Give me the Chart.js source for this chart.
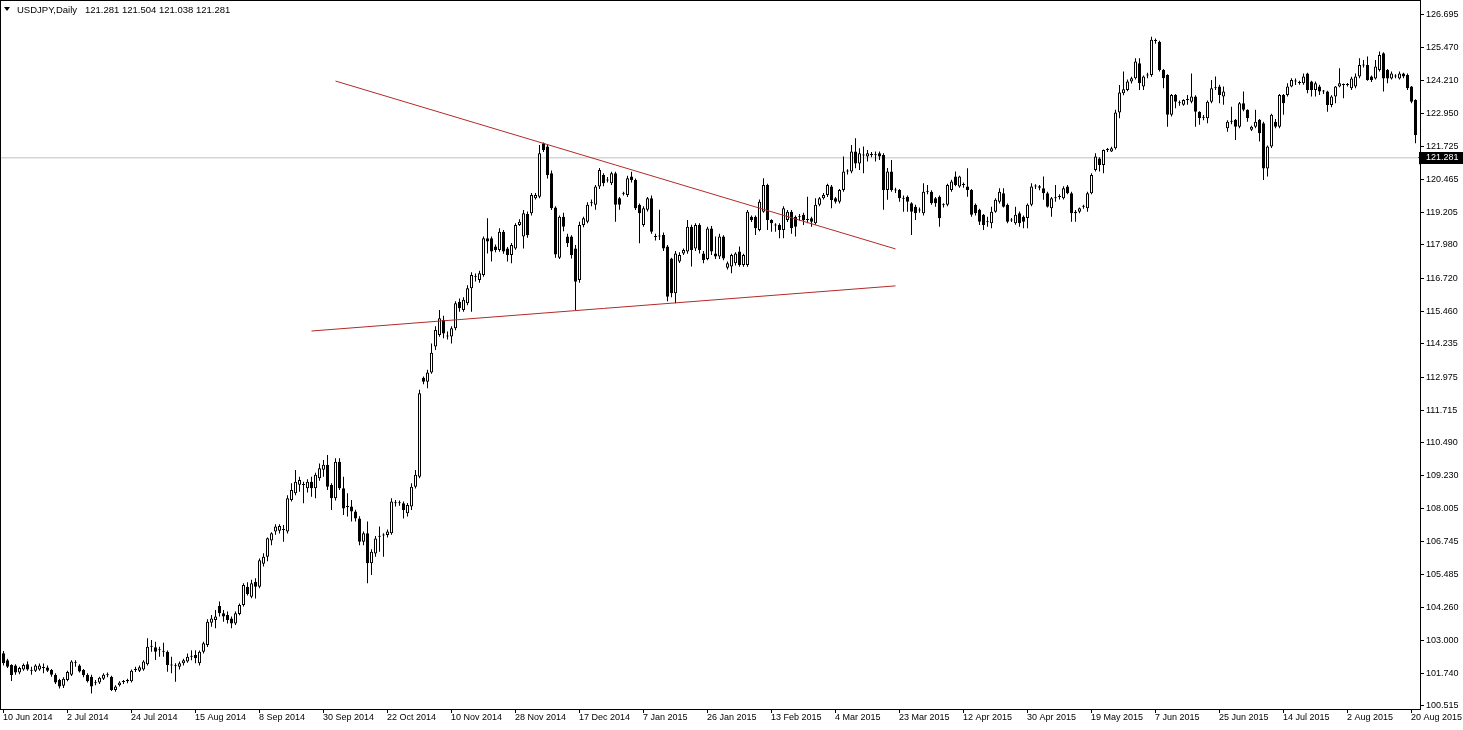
<!DOCTYPE html>
<html><head><meta charset="utf-8">
<script src="https://cdn.jsdelivr.net/npm/chart.js@4.4.1/dist/chart.umd.min.js"></script>
<style>html,body{margin:0;padding:0;background:#fff;overflow:hidden}#wrap{position:relative;width:1463px;height:730px}</style>
</head><body><div id="wrap"><canvas id="c" width="1463" height="730"></canvas></div>
<script>
const symbolTitle = "USDJPY,Daily";
const dateLabels = ["10 Jun 2014","2 Jul 2014","24 Jul 2014","15 Aug 2014","8 Sep 2014","30 Sep 2014","22 Oct 2014","10 Nov 2014","28 Nov 2014","17 Dec 2014","7 Jan 2015","26 Jan 2015","13 Feb 2015","4 Mar 2015","23 Mar 2015","12 Apr 2015","30 Apr 2015","19 May 2015","7 Jun 2015","25 Jun 2015","14 Jul 2015","2 Aug 2015","20 Aug 2015"];
const barsPerLabel = 16;
const priceTicks = [126.695,125.470,124.210,122.950,121.725,120.465,119.205,117.980,116.720,115.460,114.235,112.975,111.715,110.490,109.230,108.005,106.745,105.485,104.260,103.000,101.740,100.515];
const currentPrice = 121.281;
const upperTrend = [[83,124.19],[223,117.83]];
const lowerTrend = [[77,114.72],[223,116.43]];

const opens = [102.51,102.25,102.07,102.05,101.78,101.90,102.10,101.88,101.85,101.90,
101.97,101.97,101.88,101.70,101.50,101.28,101.50,101.70,102.18,102.05,
101.88,101.70,101.62,101.40,101.40,101.55,101.68,101.62,101.12,101.30,
101.42,101.45,101.45,101.88,101.85,101.90,102.10,102.76,102.74,102.63,
102.58,102.57,102.06,102.03,102.00,102.13,102.20,102.38,102.45,102.13,
102.57,102.82,103.67,103.77,104.30,104.03,103.96,103.83,103.64,104.00,
104.34,105.03,104.65,105.22,105.03,105.90,106.17,106.78,107.12,107.15,
107.20,107.12,108.32,108.57,108.90,108.90,108.76,109.01,108.76,109.14,
109.46,109.65,108.89,108.38,109.77,108.76,108.07,108.07,107.88,107.62,
106.74,107.06,105.92,106.29,106.93,106.99,106.99,107.06,108.19,108.19,
108.19,107.82,108.07,108.82,109.20,112.95,112.80,113.15,114.13,114.57,
115.14,114.55,114.51,114.82,115.83,115.52,115.77,116.34,116.80,116.65,
116.84,118.23,118.23,117.92,117.79,118.48,117.85,117.60,117.85,118.74,
118.30,119.15,119.18,119.75,119.81,121.83,121.71,120.70,119.40,117.50,
119.05,118.30,118.30,117.85,116.65,118.74,118.86,119.56,119.50,120.19,
120.63,120.44,120.32,120.70,119.75,119.94,119.87,120.57,120.44,119.50,
118.74,119.31,119.75,118.30,118.30,118.36,117.92,117.47,116.15,117.35,
117.66,117.73,118.67,117.85,118.74,117.66,117.45,118.60,117.66,117.54,
118.30,117.12,117.16,117.29,117.73,117.22,117.22,119.05,119.05,118.55,
119.24,120.25,118.93,118.74,118.74,118.55,118.93,119.24,119.05,119.05,
119.12,118.93,118.99,118.80,119.50,119.75,119.87,120.19,119.75,119.62,
120.06,120.76,120.76,121.52,121.07,121.39,121.33,121.39,121.39,121.45,
121.39,120.06,120.76,120.06,120.06,119.75,119.81,119.56,119.43,119.31,
119.18,120.00,120.00,119.75,119.81,119.50,119.50,120.06,120.57,120.19,
120.25,120.19,120.06,119.50,119.31,119.12,118.86,118.80,119.24,119.62,
119.94,119.50,118.93,118.80,119.18,119.05,119.00,119.50,120.19,120.20,
120.13,119.94,119.37,119.75,119.81,119.75,120.19,119.94,119.24,119.24,
119.43,119.37,119.94,120.82,121.26,121.01,121.58,121.52,121.64,123.00,
123.73,123.85,124.17,124.30,124.86,123.98,124.40,124.42,125.71,125.68,
124.61,124.42,122.91,123.66,123.35,123.29,123.47,123.41,123.60,123.03,
122.80,122.78,123.41,123.92,123.98,123.60,122.40,122.65,122.72,122.46,
123.35,123.10,122.34,122.46,122.72,122.59,120.88,121.71,122.65,122.46,
123.66,123.66,123.98,124.17,124.13,124.11,124.48,124.17,123.85,123.98,
123.79,123.79,123.28,123.60,123.98,124.04,124.04,123.92,123.98,124.36,
124.78,124.80,124.36,124.29,124.61,125.24,124.61,124.29,124.36,124.29,
124.48,124.42,123.98,123.47,121.281];

const highs = [102.60,102.30,102.10,102.10,102.00,102.12,102.20,102.00,102.10,102.12,
102.12,102.05,101.92,101.75,101.55,101.60,101.85,102.25,102.25,102.10,
101.92,101.75,101.70,101.50,101.62,101.75,101.78,101.66,101.30,101.45,
101.50,101.55,101.90,102.00,102.05,102.25,103.08,103.01,102.95,102.76,
102.91,102.62,102.38,102.13,102.20,102.30,102.50,102.63,102.63,102.62,
102.95,103.80,103.96,104.15,104.47,104.15,104.09,103.90,104.09,104.40,
105.16,105.20,105.30,105.35,106.10,106.30,106.90,107.10,107.40,107.40,
107.37,108.50,108.95,109.45,109.20,109.01,109.10,109.20,109.35,109.70,
109.83,110.02,108.95,109.90,109.90,109.20,108.57,108.32,107.95,107.70,
107.12,107.50,106.45,106.95,107.31,107.06,107.20,108.38,108.32,108.30,
108.26,108.20,108.95,109.45,112.49,113.00,113.25,114.25,114.90,115.52,
115.30,114.70,114.90,115.85,115.95,116.00,116.45,116.95,116.90,117.00,
118.30,118.99,118.30,118.00,118.61,118.55,117.90,118.05,118.80,118.95,
119.30,119.25,119.95,119.95,121.77,121.86,121.80,120.80,119.45,119.10,
119.20,118.40,118.35,117.98,118.86,119.05,119.60,119.70,120.25,120.90,
120.70,120.55,120.75,120.75,119.80,120.00,120.60,120.75,120.50,119.55,
119.45,119.80,119.85,118.40,119.31,118.45,117.98,117.50,117.75,117.70,
117.85,118.93,118.75,118.80,118.80,117.75,118.67,118.70,118.30,118.40,
118.35,117.35,117.65,117.70,117.92,117.65,119.30,119.10,119.10,119.70,
120.51,120.30,118.95,118.80,118.80,119.45,119.30,119.30,119.10,119.15,
119.20,119.81,119.05,119.75,119.80,119.95,120.30,120.25,119.80,120.10,
121.33,120.85,121.77,122.02,121.64,121.71,121.58,121.50,121.52,121.52,
121.45,120.90,121.20,120.15,120.10,119.85,119.85,119.60,119.50,119.40,
120.32,120.25,120.05,119.80,119.85,119.56,120.30,120.45,120.76,120.60,
120.35,120.89,120.10,119.55,119.35,119.15,119.05,119.43,119.75,120.13,
120.13,119.55,119.00,119.43,119.25,119.10,119.55,120.32,120.28,120.25,
120.57,120.00,119.80,120.25,119.90,120.20,120.25,120.00,119.30,119.40,
119.50,120.00,120.70,121.45,121.30,121.60,121.65,121.70,123.10,124.04,
124.55,124.25,124.35,125.05,125.05,124.40,124.50,125.87,125.80,125.72,
124.65,124.45,123.70,123.70,123.45,123.50,123.66,124.48,123.65,123.05,
122.90,123.45,124.23,124.36,124.05,123.98,122.70,123.22,122.75,123.40,
123.79,123.12,122.50,123.10,122.75,122.65,121.75,122.95,122.75,123.70,
123.70,124.11,124.30,124.29,124.20,124.48,124.50,124.20,124.17,124.05,
123.85,123.82,123.65,124.00,124.67,124.10,124.12,124.35,124.48,125.05,
124.99,125.12,124.40,124.99,125.31,125.28,124.65,124.55,124.45,124.55,
124.50,124.48,124.00,123.50,121.504];

const lows = [102.05,101.95,101.46,101.70,101.72,101.85,101.85,101.70,101.80,101.85,
101.75,101.80,101.62,101.35,101.18,101.20,101.45,101.65,102.00,101.78,
101.60,101.40,100.99,101.30,101.35,101.50,101.60,101.08,101.05,101.25,
101.35,101.38,101.40,101.80,101.80,101.85,102.05,102.57,102.26,102.38,
102.38,101.81,101.75,101.43,101.90,102.05,102.15,102.25,102.13,102.05,
102.50,102.75,103.52,103.46,103.90,103.71,103.64,103.46,103.58,103.95,
104.28,104.70,104.60,104.59,104.97,105.80,106.00,106.60,107.00,107.05,
106.74,107.05,108.26,108.50,108.63,108.19,108.60,108.44,108.38,109.05,
109.20,108.70,107.94,108.30,108.70,107.75,107.69,107.50,107.50,106.60,
106.60,105.16,105.48,106.17,106.36,106.17,106.90,107.00,108.07,108.10,
107.62,107.69,107.94,108.75,109.14,112.70,112.55,113.10,114.00,114.50,
114.45,114.40,114.25,114.75,115.45,115.45,115.70,115.45,116.60,116.55,
116.78,117.66,117.35,117.70,117.72,117.65,117.35,117.29,117.80,118.70,
117.85,118.25,119.10,119.70,119.75,121.50,120.50,119.30,117.50,117.45,
118.50,117.90,117.47,115.52,116.55,118.65,118.80,119.45,119.31,120.10,
120.20,120.35,120.25,118.86,119.31,119.85,119.80,120.35,119.30,118.04,
118.67,119.25,118.40,118.15,118.17,117.75,115.85,116.00,115.77,117.30,
117.60,117.65,117.16,117.75,117.66,117.29,117.40,117.60,117.45,117.45,
117.40,117.05,116.91,117.20,117.15,117.15,117.15,118.85,118.36,118.50,
119.20,118.55,118.48,118.48,118.23,118.23,118.85,118.40,118.30,118.90,
118.74,118.80,118.67,118.75,119.45,119.70,119.80,119.37,119.55,119.55,
120.00,120.65,120.70,120.89,120.82,120.70,121.14,121.30,121.14,121.20,
119.31,119.69,120.00,119.95,119.62,119.24,119.24,118.36,118.93,119.20,
119.10,119.90,119.50,119.43,118.67,119.40,119.45,120.00,120.20,120.15,
120.15,119.81,119.05,119.10,118.74,118.55,118.67,118.61,119.20,119.55,
119.40,118.80,118.85,118.75,118.67,118.61,118.61,119.45,120.10,120.05,
119.69,119.40,119.05,119.62,119.70,119.70,119.90,118.86,118.86,119.18,
119.35,119.24,119.90,120.76,120.76,120.70,121.50,121.50,121.60,122.78,
123.65,123.80,124.10,124.25,123.85,123.85,124.30,124.35,125.60,124.55,
123.92,122.46,122.85,123.16,123.25,123.25,123.29,123.35,122.46,122.53,
122.70,122.59,123.35,123.85,123.35,123.29,122.27,122.55,121.96,122.40,
123.05,122.65,122.30,122.40,121.90,120.44,120.57,121.65,122.40,122.40,
122.91,123.60,123.95,124.04,124.05,124.05,123.73,123.60,123.60,123.66,
123.70,123.03,123.20,123.35,123.95,123.54,123.98,123.85,123.92,124.30,
124.70,124.20,124.15,124.25,124.55,123.79,124.11,124.25,124.30,124.25,
124.30,123.85,123.35,121.83,121.038];

const closes = [102.13,102.00,101.69,101.78,101.95,102.07,101.90,101.85,102.05,102.05,
101.95,101.85,101.70,101.40,101.25,101.55,101.80,102.20,102.15,101.82,
101.68,101.45,101.25,101.38,101.58,101.70,101.70,101.12,101.25,101.40,
101.44,101.50,101.85,101.92,101.98,102.20,102.76,102.78,102.57,102.65,
102.57,102.06,102.05,102.02,102.13,102.25,102.38,102.40,102.32,102.57,
102.89,103.71,103.83,103.90,104.03,103.90,103.77,103.64,104.03,104.34,
105.10,104.76,105.16,105.03,106.04,106.17,106.87,107.06,107.31,107.33,
107.18,108.38,108.70,109.01,109.08,108.89,109.01,108.76,109.27,109.52,
109.65,108.82,108.38,109.77,108.76,108.00,108.05,107.88,107.62,106.74,
107.06,105.92,106.36,106.86,106.95,106.97,107.12,108.26,108.21,108.20,
107.94,108.13,108.82,109.27,112.36,112.80,113.15,113.90,114.76,115.20,
114.63,114.51,114.82,115.77,115.58,115.90,116.34,116.84,116.78,116.91,
118.23,118.11,117.73,117.79,118.48,117.73,117.60,117.98,118.74,118.86,
119.18,118.35,119.87,119.87,121.45,121.58,120.63,119.37,117.62,119.05,
118.67,118.04,117.60,116.59,118.74,118.99,119.50,119.57,120.19,120.82,
120.32,120.42,120.70,119.50,119.50,119.92,120.51,120.44,119.37,119.18,
119.37,119.75,118.48,118.28,118.33,117.85,116.02,116.15,117.66,117.60,
117.79,118.67,117.79,118.74,117.79,117.41,118.60,117.73,117.54,118.30,
117.47,117.29,117.60,117.66,117.22,117.60,119.24,118.93,118.61,119.62,
120.25,118.93,118.80,118.72,118.55,119.37,119.24,118.61,118.67,119.03,
118.93,118.95,118.86,119.50,119.75,119.87,120.25,119.68,119.62,120.06,
120.76,120.78,121.52,121.07,121.45,121.37,121.45,121.40,121.38,121.33,
120.06,120.76,120.06,120.04,119.75,119.73,119.62,119.24,119.18,119.29,
120.00,120.02,119.56,119.56,118.99,119.48,120.25,120.38,120.25,120.57,
120.25,120.06,119.12,119.18,118.86,118.74,118.84,119.24,119.69,120.00,
119.43,118.86,118.91,119.12,118.80,118.86,119.50,120.19,120.20,120.15,
119.94,119.43,119.75,119.77,119.80,120.13,119.94,119.18,119.18,119.37,
119.43,119.94,120.63,121.33,121.01,121.58,121.58,121.64,123.00,123.76,
123.88,124.17,124.30,124.93,124.11,124.36,124.42,125.75,125.71,124.61,
124.30,122.91,123.66,123.41,123.35,123.47,123.47,123.60,123.03,122.78,
122.80,123.41,123.92,123.92,123.66,123.79,122.65,122.65,122.46,123.35,
123.10,122.78,122.46,122.65,122.21,120.88,121.71,122.91,122.46,123.66,
123.35,123.98,124.23,124.17,124.12,124.36,123.85,123.85,124.11,123.79,
123.79,123.28,123.60,123.98,124.11,124.04,124.05,124.29,124.36,124.80,
124.82,124.23,124.23,124.74,125.18,124.29,124.29,124.48,124.36,124.48,
124.36,123.92,123.41,122.15,121.281];

const FONT = "'Liberation Sans', Arial, sans-serif";
const nBars = closes.length;
const xMin = -0.875, xMax = xMin + 355;

const wickData = highs.map((h, i) => ({x: i, y: [lows[i], h]}));
const bodyData = opens.map((o, i) => ({x: i, y: [o, closes[i]]}));
const bodyColors = opens.map((o, i) => closes[i] >= o ? '#ffffff' : '#000000');

const overlay = {
  id: 'overlay',
  afterDraw(chart) {
    const {ctx, chartArea: a, scales: {x, y}} = chart;
    ctx.save();
    ctx.strokeStyle = '#000'; ctx.lineWidth = 1;
    ctx.strokeRect(0.5, 0.5, Math.round(a.right), Math.round(a.bottom));
    ctx.font = '9px ' + FONT; ctx.fillStyle = '#000';
    ctx.textBaseline = 'middle'; ctx.textAlign = 'left';
    dateLabels.forEach((lab, k) => {
      const px = Math.round(x.getPixelForValue(k * barsPerLabel)) - 1;
      ctx.beginPath(); ctx.moveTo(px + 0.5, a.bottom); ctx.lineTo(px + 0.5, a.bottom + 4); ctx.stroke();
      ctx.fillText(lab, px, a.bottom + 9);
    });
    const py = Math.round(y.getPixelForValue(currentPrice));
    ctx.fillStyle = '#000';
    ctx.fillRect(a.right + 1, py - 6, 42, 12);
    ctx.fillStyle = '#fff';
    ctx.fillText(currentPrice.toFixed(3), a.right + 6, py);
    const L = nBars - 1;
    ctx.fillStyle = '#000';
    ctx.beginPath(); ctx.moveTo(4, 7); ctx.lineTo(10, 7); ctx.lineTo(7, 11); ctx.closePath(); ctx.fill();
    ctx.font = '9.5px ' + FONT;
    ctx.fillText(symbolTitle, 17, 10);
    ctx.fillText([opens[L], highs[L], lows[L], closes[L]].map(v => v.toFixed(3)).join(' '), 85, 10);
    ctx.restore();
  }
};

new Chart(document.getElementById('c'), {
  type: 'bar',
  data: {
    datasets: [
      {type: 'line', data: [{x: xMin, y: currentPrice}, {x: xMax, y: currentPrice}], borderColor: '#c0c0c0', borderWidth: 1, pointRadius: 0, order: 4},
      {type: 'bar', data: wickData, backgroundColor: '#000', borderWidth: 0, barThickness: 1, grouped: false, inflateAmount: 0, order: 3},
      {type: 'bar', data: bodyData, backgroundColor: bodyColors, borderColor: '#000', borderWidth: 1, borderSkipped: false, barThickness: 3, minBarLength: 1, grouped: false, inflateAmount: 0, order: 2},
      {type: 'line', data: upperTrend.map(p => ({x: p[0], y: p[1]})), borderColor: '#b22a2a', borderWidth: 1, pointRadius: 0, order: 1},
      {type: 'line', data: lowerTrend.map(p => ({x: p[0], y: p[1]})), borderColor: '#b22a2a', borderWidth: 1, pointRadius: 0, order: 1}
    ]
  },
  options: {
    responsive: false, devicePixelRatio: 1, animation: false,
    layout: {padding: 0},
    plugins: {legend: {display: false}, tooltip: {enabled: false}},
    scales: {
      x: {
        type: 'linear', min: xMin, max: xMax, offset: false, bounds: 'data',
        ticks: {display: false}, grid: {display: false, offset: false}, border: {display: false},
        afterFit(s) { s.height = 21; s.paddingLeft = 0; s.paddingRight = 0; s.paddingTop = 0; s.paddingBottom = 0; }
      },
      y: {
        type: 'linear', position: 'right', min: 100.40, max: 127.26, offset: false,
        afterBuildTicks(s) { s.ticks = priceTicks.map(v => ({value: v})); },
        ticks: {autoSkip: false, color: '#000', font: {family: FONT, size: 9}, padding: 2, callback: v => Number(v).toFixed(3)},
        grid: {drawOnChartArea: false, drawTicks: true, tickLength: 4, color: '#000'},
        border: {display: false},
        afterFit(s) { s.width = 43; s.paddingTop = 0; s.paddingBottom = 0; s.paddingLeft = 0; s.paddingRight = 0; }
      }
    }
  },
  plugins: [overlay]
});
</script></body></html>
